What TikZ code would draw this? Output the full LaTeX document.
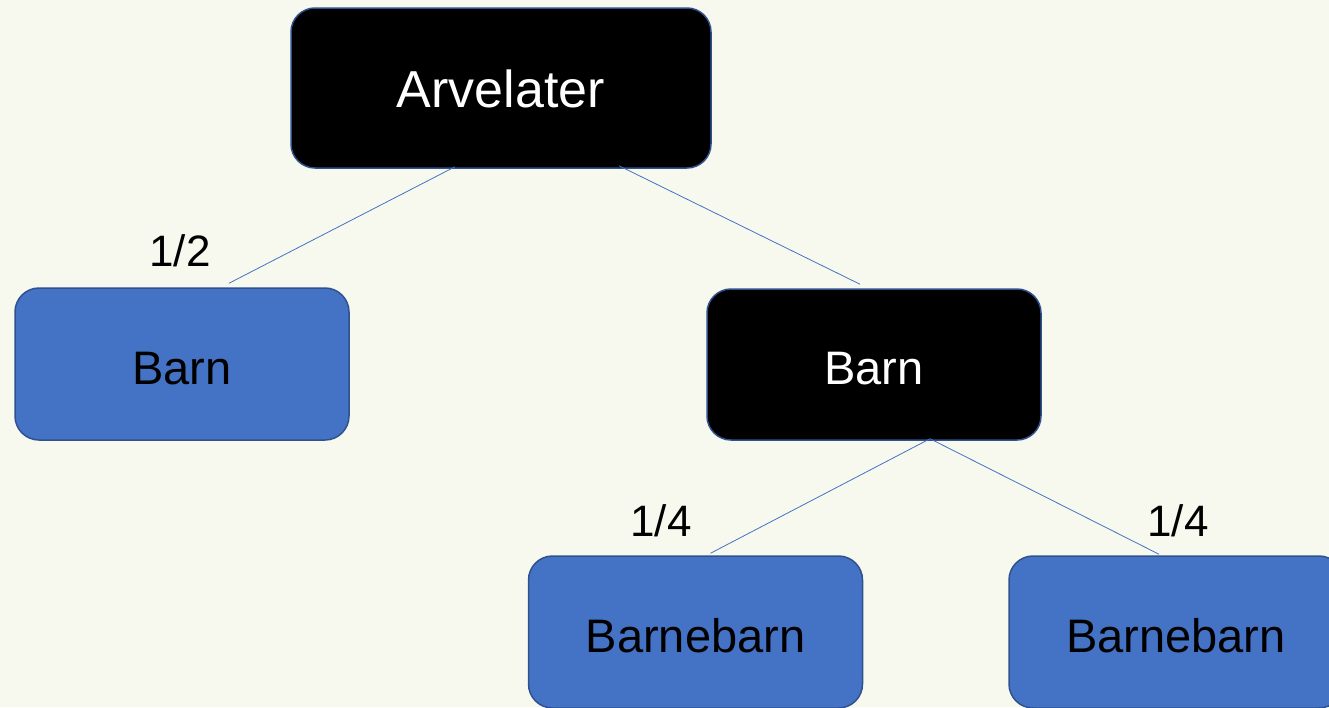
\documentclass[tikz,border=0pt]{standalone}
\usepackage{fontspec}
\setmainfont{Liberation Sans}
\usetikzlibrary{positioning}

\definecolor{bg}{HTML}{F7F9EE}
\definecolor{boxblue}{HTML}{4472C4}
\definecolor{boxline}{HTML}{2F528F}

\begin{document}
\begin{tikzpicture}[x=1pt, y=-1pt,
    entry/.style = {draw=boxline, line width=1.5pt, rectangle, inner sep=0pt,
                    rounded corners=24pt, minimum width=334pt, minimum height=152pt,
                    text height=40pt, text depth=0pt,
                    font=\fontsize{47}{56}\selectfont},
    heir/.style = {entry, fill=boxblue, text=black},
    dead/.style = {entry, fill=black, text=white},
    link/.style = {boxblue, line width=0.8pt},
    share/.style = {font=\fontsize{44}{52}\selectfont}]

    \fill [bg] (0,0) rectangle (1329,707);
    \useasboundingbox (0,0) rectangle (1329,707);

    % States
    \node [dead, minimum width=420pt, minimum height=160pt, text height=38pt,
           font=\fontsize{52}{60}\selectfont] (arv) at (501,88) {Arvelater};
    \node [heir] (barnL) at (182,364) {Barn};
    \node [dead, minimum height=151pt] (barnR) at (874,364.5) {Barn};
    \node [heir] (bbL) at (695.5,632) {Barnebarn};
    \node [heir] (bbR) at (1176,632) {Barnebarn};

    % Transitions
    \draw [link] ([xshift=-46pt, yshift=2pt]arv.south) -- ([xshift=47pt, yshift=4pt]barnL.north);
    \draw [link] ([xshift=118pt, yshift=3pt]arv.south) -- ([xshift=-14pt, yshift=4pt]barnR.north);
    \draw [link] ([xshift=56pt, yshift=2pt]barnR.south) -- ([xshift=15pt, yshift=2pt]bbL.north);
    \draw [link] ([xshift=56pt, yshift=2pt]barnR.south) -- ([xshift=-17pt, yshift=1pt]bbR.north);
    \node [share] (sL) at (180,251) {1/2};
    \node [share] (sbL) at (661,521) {1/4};
    \node [share] (sbR) at (1178,521) {1/4};
\end{tikzpicture}
\end{document}
